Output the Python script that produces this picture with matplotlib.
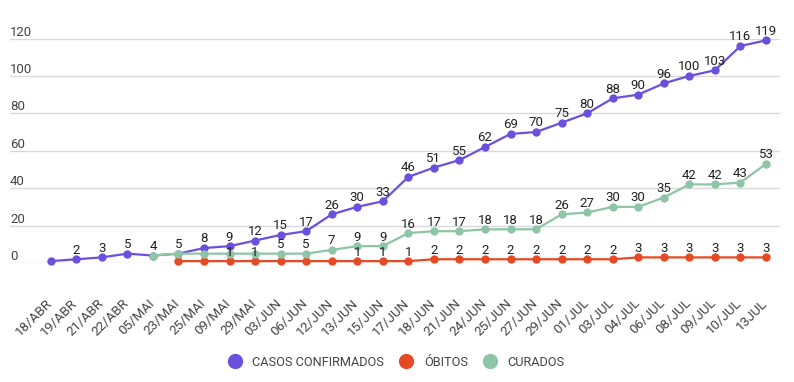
import numpy as np
import matplotlib.pyplot as plt
import matplotlib.transforms as mtransforms
from matplotlib.lines import Line2D

plt.rcParams['font.family'] = ['Roboto', 'DejaVu Sans']

datas = ['18/ABR', '19/ABR', '21/ABR', '22/ABR', '05/MAI', '23/MAI', '25/MAI', '09/MAI',
         '29/MAI', '03/JUN', '06/JUN', '12/JUN', '13/JUN', '15/JUN', '17/JUN', '18/JUN',
         '21/JUN', '24/JUN', '25/JUN', '27/JUN', '29/JUN', '01/JUL', '03/JUL', '04/JUL',
         '06/JUL', '08/JUL', '09/JUL', '10/JUL', '13JUL']

casos = [1, 2, 3, 5, 4, 5, 8, 9, 12, 15, 17, 26, 30, 33, 46, 51, 55, 62, 69, 70, 75, 80,
         88, 90, 96, 100, 103, 116, 119]
# obitos / curados start later (None = no point)
obitos = [None, None, None, None, None, 1, 1, 1, 1, 1, 1, 1, 1, 1, 1, 2, 2, 2, 2, 2, 2, 2,
          2, 3, 3, 3, 3, 3, 3]
curados = [None, None, None, None, 4, 5, 5, 5, 5, 5, 5, 7, 9, 9, 16, 17, 17, 18, 18, 18, 26,
           27, 30, 30, 35, 42, 42, 43, 53]

# which annotations are visible in the original (others were hidden by collisions)
casos_lbl = [0, 1, 1, 1, 0, 0] + [1] * 23
obitos_lbl = [0] * 7 + [1, 1, 0, 0, 0, 1, 1, 1] + [1] * 14
curados_lbl = [0, 0, 0, 0, 1, 1, 0, 0, 0, 1, 1] + [1] * 18

series = [('CASOS CONFIRMADOS', casos, casos_lbl, '#6a50dc'),
          ('ÓBITOS', obitos, obitos_lbl, '#e64a24'),
          ('CURADOS', curados, curados_lbl, '#8ec5a7')]

W, H = 794, 382
fig = plt.figure(figsize=(W / 100, H / 100), dpi=100)
ax = fig.add_axes([10 / W, 1 - 263 / H, 770 / W, (263 - 38.5) / H])

x = np.arange(len(datas))
for i, (name, vals, show, col) in enumerate(series):
    v = np.array([np.nan if a is None else a for a in vals], dtype=float)
    ax.plot(x, v, color=col, lw=1.6, marker='o', ms=6, mew=0,
            clip_on=False, zorder=3 + i)
    for xi, yi, s in zip(x, v, show):
        if s and not np.isnan(yi):
            ax.annotate(f'{int(yi)}', (xi, yi), xytext=(0, 4), textcoords='offset points',
                        ha='center', va='baseline', fontsize=9.5, color='#222222',
                        zorder=10)

# x scale: first point at 50.7px, last at 766px
step = 28 / (766 - 50.7)
ax.set_xlim(-(50.7 - 10) * step, 28 + (780 - 766) * step)
ax.set_ylim(0, 120)

ax.set_yticks(range(0, 121, 20))
ax.set_yticklabels([])
for t in range(0, 121, 20):
    ax.text(0, t, str(t), transform=ax.get_yaxis_transform(), ha='left', va='bottom',
            fontsize=9.5, color='#444444')
ax.grid(axis='y', color='#d9d9d9', lw=1)
ax.set_axisbelow(True)

ax.set_xticks(x)
ax.set_xticklabels(datas, rotation=45, ha='right', va='top', fontsize=9.6, color='#444444',
                   rotation_mode='default')
ax.tick_params(axis='x', length=0, pad=20)
ax.tick_params(axis='y', length=0)
shift = mtransforms.ScaledTranslation(4 / 100, -6 / 100, fig.dpi_scale_trans)
for lbl in ax.get_xticklabels():
    lbl.set_transform(lbl.get_transform() + shift)
for s in ax.spines.values():
    s.set_visible(False)

handles = [Line2D([], [], ls='', marker='o', ms=11, mew=0, color=c) for _, _, _, c in series]
fig.legend(handles, [s[0] for s in series], loc='center', bbox_to_anchor=(0.5, 1 - 362 / H),
           ncol=3, frameon=False, fontsize=9.2, labelcolor='#444444', handlelength=0.8,
           handletextpad=1.0, columnspacing=1.3)

fig.savefig('out.png', dpi=100)
